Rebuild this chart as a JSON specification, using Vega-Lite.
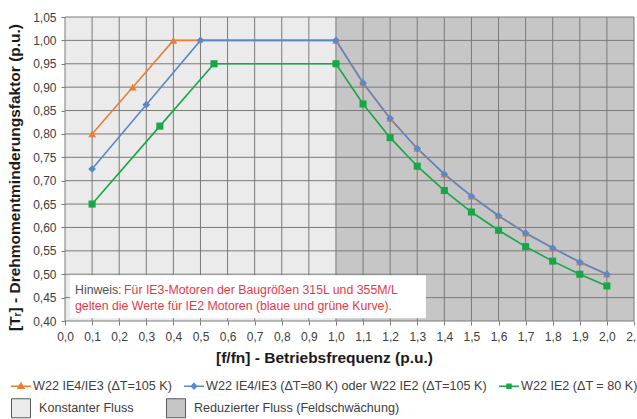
{
  "$schema": "https://vega.github.io/schema/vega-lite/v6.json",
  "width": 569,
  "height": 304,
  "autosize": {"type": "none"},
  "padding": {"left": 65, "top": 17, "right": 3, "bottom": 98},
  "background": "white",
  "config": {
    "font": "Liberation Sans",
    "view": {"stroke": null},
    "axis": {
      "grid": false,
      "domain": false,
      "ticks": true,
      "tickSize": 4,
      "tickColor": "#7a7a7a",
      "labelFont": "Liberation Sans",
      "labelFontSize": 12,
      "labelColor": "#404040",
      "labelOverlap": false,
      "labelFlush": false,
      "titleFont": "Liberation Sans",
      "titleFontSize": 15.5,
      "titleFontWeight": "bold",
      "titleColor": "#1a1a1a"
    },
    "axisX": {"labelPadding": 6},
    "axisY": {"labelPadding": 5},
    "legend": {
      "labelFont": "Liberation Sans",
      "labelFontSize": 12.6,
      "labelColor": "#404040",
      "labelLimit": 400
    }
  },
  "datasets": {
    "curves": [
      {"series": "W22 IE4/IE3 (ΔT=105 K)", "f": 0.1, "t": 0.8},
      {"series": "W22 IE4/IE3 (ΔT=105 K)", "f": 0.25, "t": 0.9},
      {"series": "W22 IE4/IE3 (ΔT=105 K)", "f": 0.4, "t": 1.0},
      {"series": "W22 IE4/IE3 (ΔT=105 K)", "f": 1.0, "t": 1.0},
      {"series": "W22 IE4/IE3 (ΔT=105 K)", "f": 1.1, "t": 0.909},
      {"series": "W22 IE4/IE3 (ΔT=105 K)", "f": 1.2, "t": 0.833},
      {"series": "W22 IE4/IE3 (ΔT=105 K)", "f": 1.3, "t": 0.769},
      {"series": "W22 IE4/IE3 (ΔT=105 K)", "f": 1.4, "t": 0.714},
      {"series": "W22 IE4/IE3 (ΔT=105 K)", "f": 1.5, "t": 0.667},
      {"series": "W22 IE4/IE3 (ΔT=105 K)", "f": 1.6, "t": 0.625},
      {"series": "W22 IE4/IE3 (ΔT=105 K)", "f": 1.7, "t": 0.588},
      {"series": "W22 IE4/IE3 (ΔT=105 K)", "f": 1.8, "t": 0.556},
      {"series": "W22 IE4/IE3 (ΔT=105 K)", "f": 1.9, "t": 0.526},
      {"series": "W22 IE4/IE3 (ΔT=105 K)", "f": 2.0, "t": 0.5},
      {"series": "W22 IE4/IE3 (ΔT=80 K) oder W22 IE2 (ΔT=105 K)", "f": 0.1, "t": 0.725},
      {"series": "W22 IE4/IE3 (ΔT=80 K) oder W22 IE2 (ΔT=105 K)", "f": 0.3, "t": 0.8625},
      {"series": "W22 IE4/IE3 (ΔT=80 K) oder W22 IE2 (ΔT=105 K)", "f": 0.5, "t": 1.0},
      {"series": "W22 IE4/IE3 (ΔT=80 K) oder W22 IE2 (ΔT=105 K)", "f": 1.0, "t": 1.0},
      {"series": "W22 IE4/IE3 (ΔT=80 K) oder W22 IE2 (ΔT=105 K)", "f": 1.1, "t": 0.909},
      {"series": "W22 IE4/IE3 (ΔT=80 K) oder W22 IE2 (ΔT=105 K)", "f": 1.2, "t": 0.833},
      {"series": "W22 IE4/IE3 (ΔT=80 K) oder W22 IE2 (ΔT=105 K)", "f": 1.3, "t": 0.769},
      {"series": "W22 IE4/IE3 (ΔT=80 K) oder W22 IE2 (ΔT=105 K)", "f": 1.4, "t": 0.714},
      {"series": "W22 IE4/IE3 (ΔT=80 K) oder W22 IE2 (ΔT=105 K)", "f": 1.5, "t": 0.667},
      {"series": "W22 IE4/IE3 (ΔT=80 K) oder W22 IE2 (ΔT=105 K)", "f": 1.6, "t": 0.625},
      {"series": "W22 IE4/IE3 (ΔT=80 K) oder W22 IE2 (ΔT=105 K)", "f": 1.7, "t": 0.588},
      {"series": "W22 IE4/IE3 (ΔT=80 K) oder W22 IE2 (ΔT=105 K)", "f": 1.8, "t": 0.556},
      {"series": "W22 IE4/IE3 (ΔT=80 K) oder W22 IE2 (ΔT=105 K)", "f": 1.9, "t": 0.526},
      {"series": "W22 IE4/IE3 (ΔT=80 K) oder W22 IE2 (ΔT=105 K)", "f": 2.0, "t": 0.5},
      {"series": "W22 IE2 (ΔT = 80 K)", "f": 0.1, "t": 0.65},
      {"series": "W22 IE2 (ΔT = 80 K)", "f": 0.35, "t": 0.8167},
      {"series": "W22 IE2 (ΔT = 80 K)", "f": 0.55, "t": 0.95},
      {"series": "W22 IE2 (ΔT = 80 K)", "f": 1.0, "t": 0.95},
      {"series": "W22 IE2 (ΔT = 80 K)", "f": 1.1, "t": 0.864},
      {"series": "W22 IE2 (ΔT = 80 K)", "f": 1.2, "t": 0.792},
      {"series": "W22 IE2 (ΔT = 80 K)", "f": 1.3, "t": 0.731},
      {"series": "W22 IE2 (ΔT = 80 K)", "f": 1.4, "t": 0.679},
      {"series": "W22 IE2 (ΔT = 80 K)", "f": 1.5, "t": 0.633},
      {"series": "W22 IE2 (ΔT = 80 K)", "f": 1.6, "t": 0.594},
      {"series": "W22 IE2 (ΔT = 80 K)", "f": 1.7, "t": 0.559},
      {"series": "W22 IE2 (ΔT = 80 K)", "f": 1.8, "t": 0.528},
      {"series": "W22 IE2 (ΔT = 80 K)", "f": 1.9, "t": 0.5},
      {"series": "W22 IE2 (ΔT = 80 K)", "f": 2.0, "t": 0.475}
    ],
    "zones": [
      {"zone": "Konstanter Fluss", "from": 0.0, "to": 1.0},
      {"zone": "Reduzierter Fluss (Feldschwächung)", "from": 1.0, "to": 2.1}
    ],
    "gridx": [
      {"v": 0.0}, {"v": 0.1}, {"v": 0.2}, {"v": 0.3}, {"v": 0.4}, {"v": 0.5},
      {"v": 0.6}, {"v": 0.7}, {"v": 0.8}, {"v": 0.9}, {"v": 1.0}, {"v": 1.1},
      {"v": 1.2}, {"v": 1.3}, {"v": 1.4}, {"v": 1.5}, {"v": 1.6}, {"v": 1.7},
      {"v": 1.8}, {"v": 1.9}, {"v": 2.0}, {"v": 2.1}
    ],
    "gridy": [
      {"v": 0.4}, {"v": 0.45}, {"v": 0.5}, {"v": 0.55}, {"v": 0.6}, {"v": 0.65},
      {"v": 0.7}, {"v": 0.75}, {"v": 0.8}, {"v": 0.85}, {"v": 0.9}, {"v": 0.95},
      {"v": 1.0}, {"v": 1.05}
    ],
    "note": [
      {"part": "Hinweis:", "red": false, "x": 0.037, "y": 0.466},
      {"part": "Für IE3-Motoren der Baugrößen 315L und 355M/L", "red": true, "x": 0.218, "y": 0.466},
      {"part": "gelten die Werte für IE2 Motoren (blaue und grüne Kurve).", "red": true, "x": 0.037, "y": 0.432}
    ]
  },
  "layer": [
    {
      "data": {"name": "zones"},
      "mark": {"type": "rect"},
      "encoding": {
        "x": {
          "field": "from", "type": "quantitative",
          "scale": {"domain": [0, 2.1], "nice": false, "zero": false},
          "axis": {
            "values": [0, 0.1, 0.2, 0.3, 0.4, 0.5, 0.6, 0.7, 0.8, 0.9, 1.0, 1.1, 1.2, 1.3, 1.4, 1.5, 1.6, 1.7, 1.8, 1.9, 2.0, 2.1],
            "tickCount": 40,
            "labelExpr": "replace(format(datum.value, '.1f'), '.', ',')",
            "title": "[f/fn] - Betriebsfrequenz (p.u.)",
            "titleX": 259,
            "titleY": 41,
            "titleBaseline": "alphabetic"
          }
        },
        "x2": {"field": "to"},
        "fill": {
          "field": "zone", "type": "nominal",
          "scale": {"domain": ["Konstanter Fluss", "Reduzierter Fluss (Feldschwächung)"], "range": ["#ebebeb", "#c6c6c6"]},
          "legend": {
            "title": null,
            "orient": "none",
            "legendX": -54,
            "legendY": 381,
            "direction": "horizontal",
            "symbolType": "square",
            "symbolSize": 361,
            "symbolStrokeColor": "#5a5a5a",
            "symbolStrokeWidth": 1,
            "labelOffset": 8,
            "columnPadding": 30,
            "encode": {
              "symbols": {"update": {"stroke": {"value": "#5a5a5a"}, "strokeWidth": {"value": 1}, "opacity": {"value": 1}}}
            }
          }
        }
      }
    },
    {
      "data": {"name": "gridx"},
      "mark": {"type": "rule", "color": "#7a7a7a", "strokeWidth": 1},
      "encoding": {"x": {"field": "v", "type": "quantitative"}}
    },
    {
      "data": {"name": "gridy"},
      "mark": {"type": "rule", "color": "#7a7a7a", "strokeWidth": 1},
      "encoding": {
        "y": {
          "field": "v", "type": "quantitative",
          "scale": {"domain": [0.4, 1.05], "nice": false, "zero": false},
          "axis": {
            "values": [0.4, 0.45, 0.5, 0.55, 0.6, 0.65, 0.7, 0.75, 0.8, 0.85, 0.9, 0.95, 1.0, 1.05],
            "tickCount": 30,
            "labelExpr": "replace(format(datum.value, '.2f'), '.', ',')",
            "title": "[Tᵣ] - Drehmomentminderungsfaktor (p.u.)",
            "titleX": -51,
            "titleY": 160,
            "titleAngle": -90,
            "titleAlign": "center",
            "titleBaseline": "middle"
          }
        }
      }
    },
    {
      "data": {"name": "curves"},
      "mark": {"type": "line", "strokeWidth": 1.6},
      "encoding": {
        "x": {"field": "f", "type": "quantitative"},
        "y": {"field": "t", "type": "quantitative"},
        "color": {
          "field": "series", "type": "nominal",
          "scale": {
            "domain": ["W22 IE4/IE3 (ΔT=105 K)", "W22 IE4/IE3 (ΔT=80 K) oder W22 IE2 (ΔT=105 K)", "W22 IE2 (ΔT = 80 K)"],
            "range": ["#ed7d31", "#5b88c8", "#16a846"]
          },
          "legend": {
            "title": null,
            "orient": "none",
            "legendX": -55,
            "legendY": 358,
            "direction": "horizontal",
            "symbolSize": 400,
            "labelOffset": 1,
            "columnPadding": 9,
            "encode": {
              "symbols": {
                "update": {
                  "shape": {"signal": "datum.index === 0 ? 'M-1,0H1M0,-0.32L0.3,0.2L-0.3,0.2Z' : datum.index === 1 ? 'M-1,0H1M0,-0.28L0.26,0L0,0.28L-0.26,0Z' : 'M-1,0H1M-0.2,-0.2H0.2V0.2H-0.2Z'"},
                  "fill": {"scale": "color", "field": "value"},
                  "stroke": {"scale": "color", "field": "value"},
                  "strokeWidth": {"value": 1.4},
                  "size": {"value": 400},
                  "opacity": {"value": 1}
                }
              }
            }
          }
        },
        "order": {"field": "f", "type": "quantitative"}
      }
    },
    {
      "data": {"name": "curves"},
      "transform": [{"filter": "datum.series === 'W22 IE4/IE3 (ΔT=105 K)'"}],
      "mark": {"type": "point", "filled": true, "opacity": 1, "size": 60, "shape": "triangle-up", "color": "#ed7d31"},
      "encoding": {
        "x": {"field": "f", "type": "quantitative"},
        "y": {"field": "t", "type": "quantitative"}
      }
    },
    {
      "data": {"name": "curves"},
      "transform": [{"filter": "datum.series === 'W22 IE4/IE3 (ΔT=80 K) oder W22 IE2 (ΔT=105 K)'"}],
      "mark": {"type": "point", "filled": true, "opacity": 1, "size": 60, "shape": "diamond", "color": "#5b88c8"},
      "encoding": {
        "x": {"field": "f", "type": "quantitative"},
        "y": {"field": "t", "type": "quantitative"}
      }
    },
    {
      "data": {"name": "curves"},
      "transform": [{"filter": "datum.series === 'W22 IE2 (ΔT = 80 K)'"}],
      "mark": {"type": "point", "filled": true, "opacity": 1, "size": 50, "shape": "square", "color": "#16a846"},
      "encoding": {
        "x": {"field": "f", "type": "quantitative"},
        "y": {"field": "t", "type": "quantitative"}
      }
    },
    {
      "data": {"values": [{"x0": 0.018, "x1": 1.332, "y0": 0.406, "y1": 0.498}]},
      "mark": {"type": "rect", "fill": "white"},
      "encoding": {
        "x": {"field": "x0", "type": "quantitative"},
        "x2": {"field": "x1"},
        "y": {"field": "y0", "type": "quantitative"},
        "y2": {"field": "y1"}
      }
    },
    {
      "data": {"name": "note"},
      "mark": {"type": "text", "align": "left", "baseline": "middle", "fontSize": 12.3, "font": "Liberation Sans"},
      "encoding": {
        "x": {"field": "x", "type": "quantitative"},
        "y": {"field": "y", "type": "quantitative"},
        "text": {"field": "part"},
        "color": {"condition": {"test": "datum.red", "value": "#e8394a"}, "value": "#505050"}
      }
    }
  ]
}
